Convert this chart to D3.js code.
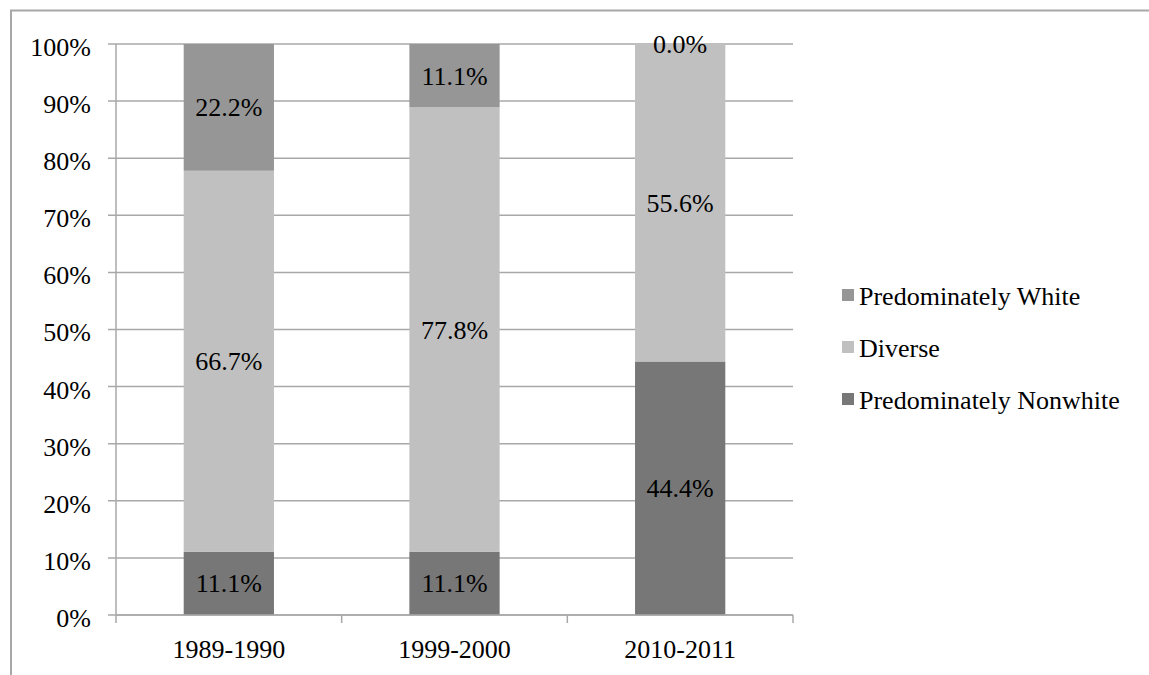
<!DOCTYPE html>
<html>
<head>
<meta charset="utf-8">
<script src="https://cdn.jsdelivr.net/npm/d3@7"></script>
<style>
  html, body { margin: 0; padding: 0; background: #fff; }
</style>
</head>
<body>
<svg id="chart" width="1149" height="675"></svg>
<script>
// School composition by period (shares of schools)
const categories = ["1989-1990", "1999-2000", "2010-2011"];
const seriesNames = ["Predominately Nonwhite", "Diverse", "Predominately White"];
const nonwhite = [11.1, 11.1, 44.4];
const diverse = [66.7, 77.8, 55.6];
const white = [22.2, 11.1, 0.0];
const yTicks = [0, 10, 20, 30, 40, 50, 60, 70, 80, 90, 100];
const legendOrder = ["Predominately White", "Diverse", "Predominately Nonwhite"];

const colors = {
  "Predominately Nonwhite": "#777777",
  "Diverse": "#c0c0c0",
  "Predominately White": "#969696"
};

const rows = categories.map((c, i) => ({
  category: c,
  "Predominately Nonwhite": nonwhite[i],
  "Diverse": diverse[i],
  "Predominately White": white[i]
}));

const svg = d3.select("#chart");
const gridColor = "#a8a8a8";
const fontSize = 26;
const fontFamily = "'Liberation Serif', 'Times New Roman', Times, serif";

function styleText(sel) {
  return sel
    .attr("font-family", fontFamily)
    .attr("font-size", fontSize)
    .attr("fill", "#000");
}

// outer frame
svg.append("rect")
  .attr("x", 11).attr("y", 10.5)
  .attr("width", 1200).attr("height", 800)
  .attr("fill", "none")
  .attr("stroke", gridColor)
  .attr("stroke-width", 2);

const plot = { left: 116, right: 793, top: 44, bottom: 615 };

const x = d3.scaleBand()
  .domain(categories)
  .range([plot.left, plot.right])
  .paddingInner(0.6)
  .paddingOuter(0.3);

const y = d3.scaleLinear()
  .domain([0, 100])
  .range([plot.bottom, plot.top]);

// horizontal gridlines
svg.append("g")
  .selectAll("line")
  .data(yTicks)
  .join("line")
  .attr("x1", plot.left - 8)
  .attr("x2", plot.right)
  .attr("y1", d => y(d))
  .attr("y2", d => y(d))
  .attr("stroke", gridColor)
  .attr("stroke-width", 1.5);

// y tick labels
svg.append("g")
  .selectAll("text")
  .data(yTicks)
  .join("text")
  .attr("x", 91)
  .attr("y", d => y(d))
  .attr("dy", "0.46em")
  .attr("text-anchor", "end")
  .call(styleText)
  .text(d => d + "%");

// stacked bars
const stack = d3.stack().keys(seriesNames);
const stacked = stack(rows);

const layers = svg.append("g")
  .selectAll("g")
  .data(stacked)
  .join("g")
  .attr("fill", d => colors[d.key]);

layers.selectAll("rect")
  .data(d => d)
  .join("rect")
  .attr("x", d => x(d.data.category))
  .attr("width", x.bandwidth())
  .attr("y", d => y(d[1]))
  .attr("height", d => y(d[0]) - y(d[1]));

// value labels centred in each segment
const labels = svg.append("g");
stacked.forEach(layer => {
  layer.forEach(d => {
    labels.append("text")
      .attr("x", x(d.data.category) + x.bandwidth() / 2)
      .attr("y", y((d[0] + d[1]) / 2))
      .attr("dy", "0.35em")
      .attr("text-anchor", "middle")
      .call(styleText)
      .text(d.data[layer.key].toFixed(1) + "%");
  });
});

// axes lines
svg.append("line")
  .attr("x1", plot.left).attr("x2", plot.left)
  .attr("y1", plot.top).attr("y2", plot.bottom)
  .attr("stroke", gridColor).attr("stroke-width", 1.5);

svg.append("line")
  .attr("x1", plot.left).attr("x2", plot.right)
  .attr("y1", plot.bottom).attr("y2", plot.bottom)
  .attr("stroke", gridColor).attr("stroke-width", 1.5);

// x ticks at category boundaries
const boundaries = categories.map(c => x(c) - x.step() * x.paddingOuter()).concat([plot.right]);
svg.append("g")
  .selectAll("line")
  .data(boundaries)
  .join("line")
  .attr("x1", d => d).attr("x2", d => d)
  .attr("y1", plot.bottom).attr("y2", plot.bottom + 8)
  .attr("stroke", gridColor).attr("stroke-width", 1.5);

// x labels
svg.append("g")
  .selectAll("text")
  .data(categories)
  .join("text")
  .attr("x", d => x(d) + x.bandwidth() / 2)
  .attr("y", plot.bottom + 43)
  .attr("text-anchor", "middle")
  .call(styleText)
  .text(d => d);

// legend
const legend = svg.append("g")
  .selectAll("g")
  .data(legendOrder)
  .join("g")
  .attr("transform", (d, i) => `translate(842, ${295 + i * 52})`);

legend.append("rect")
  .attr("x", 0).attr("y", -6)
  .attr("width", 12).attr("height", 12)
  .attr("fill", d => colors[d]);

legend.append("text")
  .attr("x", 17)
  .attr("y", 0)
  .attr("dy", "0.4em")
  .call(styleText)
  .text(d => d);
</script>
</body>
</html>
